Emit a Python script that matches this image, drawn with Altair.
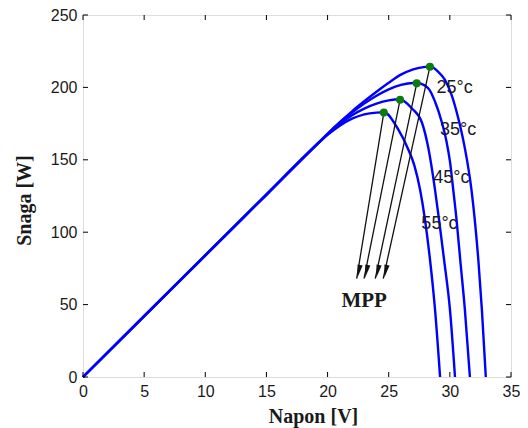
import altair as alt
import pandas as pd

# ---- curve data (Napon [V], Snaga [W]) ----
v25 = [0, 5, 10, 15, 19, 20, 21, 22, 23, 24, 25, 26, 27, 28, 28.4, 29.05, 29.6, 30.14, 30.55, 30.95, 31.23, 31.77, 32.04, 32.33, 32.62, 32.94]
p25 = [0, 42, 84, 126, 159.6, 168, 176, 183.5, 190.4, 197, 203.2, 208.8, 212.5, 214.2, 214.4, 210.8, 205.2, 194.8, 183.2, 169.4, 157.9, 129.1, 108.4, 80.8, 46.3, 0]

v35 = [0, 5, 10, 15, 19, 20, 21, 22, 23, 24, 25, 26, 27, 27.3, 28.24, 28.79, 29.33, 29.73, 30.01, 30.28, 30.55, 30.85, 31.23, 31.64]
p35 = [0, 42, 84, 126, 159.6, 167.9, 175.6, 182.6, 188.8, 194.2, 198.6, 201.7, 203, 203, 199.4, 190.1, 176.3, 162.5, 148.7, 129.1, 108.4, 80.8, 46.3, 0]

v45 = [0, 5, 10, 15, 19, 20, 21, 22, 23, 24, 25, 25.9, 26.88, 27.7, 28.24, 28.79, 29.12, 29.53, 30.01, 30.42]
p45 = [0, 42, 84, 126, 159.6, 167.6, 174.8, 180.8, 185.4, 188.8, 191, 191.8, 185.6, 176.1, 158.1, 129.1, 108.4, 80.8, 46.3, 0]

v55 = [0, 5, 10, 15, 19, 20, 21, 22, 23, 24, 24.6, 25.8, 26.62, 27.1, 27.57, 27.97, 28.38, 28.79, 29.2]
p55 = [0, 42, 84, 126, 159.6, 167.2, 173.6, 178.4, 181.4, 182.6, 182.8, 170.6, 156.8, 146, 129.1, 108.4, 80.8, 46.3, 0]

# MPP points and arrow tips
mpp_temp = ["25", "35", "45", "55"]
mpp_v = [28.37, 27.29, 25.93, 24.6]
mpp_p = [214.3, 202.8, 191.5, 182.6]
tip_v = [24.55, 23.9, 22.98, 22.38]
tip_p = [68, 68, 68, 68]
head_v = [24.75, 24.1, 23.18, 22.55]
head_p = [73, 73, 73, 73]

# temperature labels
lab_text = ["25°c", "35°c", "45°c", "55°c"]
lab_v = [28.9, 29.2, 28.65, 27.67]
lab_p = [199.6, 170.6, 137.4, 105.7]

mpp_label = ["MPP"]
mpp_label_v = [22.99]
mpp_label_p = [52.5]

x_ticks = [0, 5, 10, 15, 20, 25, 30, 35]
y_ticks = [0, 50, 100, 150, 200, 250]

W, H = 428, 362

rows = []
for t, vs, ps in [("25", v25, p25), ("35", v35, p35), ("45", v45, p45), ("55", v55, p55)]:
    for i, (v, p) in enumerate(zip(vs, ps)):
        rows.append({"temp": t, "V": v, "P": p, "i": i})
curves_df = pd.DataFrame(rows)

mpp_df = pd.DataFrame({"temp": mpp_temp, "V": mpp_v, "P": mpp_p,
                       "V2": tip_v, "P2": tip_p, "HV": head_v, "HP": head_p})
lab_df = pd.DataFrame({"text": lab_text, "V": lab_v, "P": lab_p})
mpplab_df = pd.DataFrame({"text": mpp_label, "V": mpp_label_v, "P": mpp_label_p})
xt_df = pd.DataFrame({"t": x_ticks})
yt_df = pd.DataFrame({"t": y_ticks})

xs = alt.Scale(domain=[0, 35], nice=False, zero=False)
ys = alt.Scale(domain=[0, 250], nice=False, zero=False)

lab_font = "Liberation Sans"
title_font = "Liberation Serif"

x_axis = alt.Axis(values=x_ticks, ticks=False, tickSize=0, domain=False, grid=False,
                  labelFlush=False,
                  labelFont=lab_font, labelFontSize=16, labelColor="#1a1a1a",
                  labelPadding=6, title="Napon [V]", titleFont=title_font,
                  titleFontSize=20, titleFontWeight="bold", titleColor="#1a1a1a",
                  titleX=230, titleY=39, titleAlign="center", titleBaseline="middle")
y_axis = alt.Axis(values=y_ticks, ticks=False, tickSize=0, domain=False, grid=False,
                  labelFlush=False,
                  labelFont=lab_font, labelFontSize=16, labelColor="#1a1a1a",
                  labelPadding=6, title="Snaga [W]", titleFont=title_font,
                  titleFontSize=20, titleFontWeight="bold", titleColor="#1a1a1a",
                  titleX=-59, titleY=185, titleAngle=270, titleAlign="center",
                  titleBaseline="middle")


def X(f):
    return alt.X(f, type="quantitative", scale=xs, axis=x_axis)


def Y(f):
    return alt.Y(f, type="quantitative", scale=ys, axis=y_axis)


curves = alt.Chart(curves_df).mark_line(color="#0000ff", strokeWidth=2.4, interpolate="monotone").encode(
    x=X("V"),
    y=Y("P"),
    detail="temp:N",
    order="i:Q",
)

arrows = alt.Chart(mpp_df).mark_rule(color="#111111", strokeWidth=1.3).encode(
    x=X("V"), y=Y("P"), x2="V2", y2="P2"
)

heads = alt.Chart(mpp_df).mark_point(
    shape="M0,1L-0.4,-1L0.4,-1Z", filled=True, color="#111111", opacity=1,
    size=170, angle=12
).encode(x=X("HV"), y=Y("HP"))

dots = alt.Chart(mpp_df).mark_circle(color="#0b7d0b", size=65, opacity=1).encode(
    x=X("V"), y=Y("P")
)

labels = alt.Chart(lab_df).mark_text(
    font=lab_font, fontSize=18, color="#1a1a1a", align="left", baseline="middle"
).encode(x=X("V"), y=Y("P"), text="text:N")

mpp_text = alt.Chart(mpplab_df).mark_text(
    font=title_font, fontSize=21, fontWeight="bold", color="#1a1a1a",
    align="center", baseline="middle"
).encode(x=X("V"), y=Y("P"), text="text:N")

tick_bottom = alt.Chart(xt_df).mark_rule(color="black", strokeWidth=1).encode(
    x=X("t"), y=alt.value(H), y2=alt.value(H - 5))
tick_top = alt.Chart(xt_df).mark_rule(color="black", strokeWidth=1).encode(
    x=X("t"), y=alt.value(0), y2=alt.value(5))
tick_left = alt.Chart(yt_df).mark_rule(color="black", strokeWidth=1).encode(
    y=Y("t"), x=alt.value(0), x2=alt.value(5))
tick_right = alt.Chart(yt_df).mark_rule(color="black", strokeWidth=1).encode(
    y=Y("t"), x=alt.value(W), x2=alt.value(W - 5))

chart = alt.layer(
    curves, tick_bottom, tick_top, tick_left, tick_right,
    arrows, heads, dots, labels, mpp_text
).properties(
    width=W, height=H,
    autosize=alt.AutoSizeParams(type="none"),
    padding={"left": 75, "top": 7, "right": 9, "bottom": 51},
).configure_view(
    stroke="black", strokeWidth=1.6
).configure(background="white")

chart.save("out.html", embed_options={"renderer": "svg", "actions": False})
